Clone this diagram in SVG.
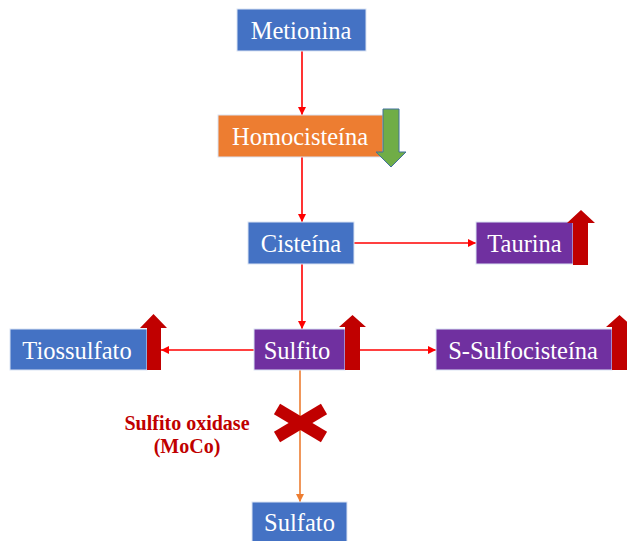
<svg xmlns="http://www.w3.org/2000/svg" width="627" height="541" viewBox="0 0 627 541">
<defs>
<style>
.box{stroke:#DAE3F3;stroke-width:1}
.blue{fill:#4472C4}
.orange{fill:#ED7D31}
.purple{fill:#7030A0}
.lbl{font-family:"Liberation Serif","Times New Roman",serif;font-size:24.5px;fill:#FFFFFF;text-anchor:middle}
.con{fill:none;stroke:#FF0000;stroke-width:1.6}
.ora{fill:none;stroke:#ED7D31;stroke-width:1.6}
.up{fill:#C00000}
.note{font-family:"Liberation Serif","Times New Roman",serif;font-size:20px;font-weight:bold;fill:#C00000;text-anchor:middle}
</style>
<marker id="ah" viewBox="0 0 10 10" refX="10" refY="5" markerWidth="5" markerHeight="5" orient="auto" markerUnits="strokeWidth">
<path d="M0,0 L10,5 L0,10 Z" fill="#FF0000"/>
</marker>
<marker id="aho" viewBox="0 0 10 10" refX="10" refY="5" markerWidth="5" markerHeight="5" orient="auto" markerUnits="strokeWidth">
<path d="M0,0 L10,5 L0,10 Z" fill="#ED7D31"/>
</marker>
</defs>
<rect width="627" height="541" fill="#FFFFFF"/>
<g id="connectors">
<line class="con" x1="302" y1="51" x2="302" y2="115" marker-end="url(#ah)"/>
<line class="con" x1="302" y1="157" x2="302" y2="222" marker-end="url(#ah)"/>
<line class="con" x1="354" y1="243" x2="476" y2="243" marker-end="url(#ah)"/>
<line class="con" x1="302" y1="264" x2="302" y2="329" marker-end="url(#ah)"/>
<line class="con" x1="254" y1="350" x2="161" y2="350" marker-end="url(#ah)"/>
<line class="con" x1="345" y1="350" x2="436" y2="350" marker-end="url(#ah)"/>
<line class="ora" x1="300" y1="370" x2="300" y2="502" marker-end="url(#aho)"/>
</g>
<g id="metionina">
<rect class="box blue" x="237" y="9" width="129" height="42"/>
<text class="lbl" x="301" y="39">Metionina</text>
</g>
<g id="homocisteina">
<rect class="box orange" x="218" y="115" width="165" height="42"/>
<text class="lbl" x="300" y="145">Homocisteína</text>
<path d="M383,109 H399 V152 H406 L391,167 L376,152 H383 Z" fill="#70AD47" stroke="#41719C" stroke-width="1"/>
</g>
<g id="cisteina">
<rect class="box blue" x="248" y="222" width="106" height="42"/>
<text class="lbl" x="301" y="252">Cisteína</text>
</g>
<g id="taurina">
<rect class="box purple" x="476" y="222" width="97" height="42"/>
<text class="lbl" x="524.5" y="252">Taurina</text>
<path class="up" d="M573,265 V223 H567 L581,210 L595,223 H588 V265 Z"/>
</g>
<g id="tiossulfato">
<rect class="box blue" x="10" y="329" width="137" height="41"/>
<text class="lbl" x="77" y="358.5">Tiossulfato</text>
<path class="up" d="M147,370 V328 H140 L153.5,314 L167,328 H161 V370 Z"/>
</g>
<g id="sulfito">
<rect class="box purple" x="254" y="329" width="91" height="41"/>
<text class="lbl" x="297" y="358.5">Sulfito</text>
<path class="up" d="M345,370 V327 H339 L352.5,315 L366,327 H360 V370 Z"/>
</g>
<g id="s-sulfocisteina">
<rect class="box purple" x="436" y="329" width="176" height="41"/>
<text class="lbl" x="523" y="358.5">S-Sulfocisteína</text>
<path class="up" d="M612,370 V327 H606 L619.5,315 L633,327 H627 V370 Z"/>
</g>
<g id="sulfato">
<rect class="box blue" x="252" y="502" width="95" height="40"/>
<text class="lbl" x="299.5" y="531">Sulfato</text>
</g>
<g id="block">
<line x1="277" y1="409" x2="324" y2="437" stroke="#C00000" stroke-width="12"/>
<line x1="277" y1="437" x2="324" y2="409" stroke="#C00000" stroke-width="12"/>
<text class="note" x="187" y="430">Sulfito oxidase</text>
<text class="note" x="187" y="453">(MoCo)</text>
</g>
</svg>
